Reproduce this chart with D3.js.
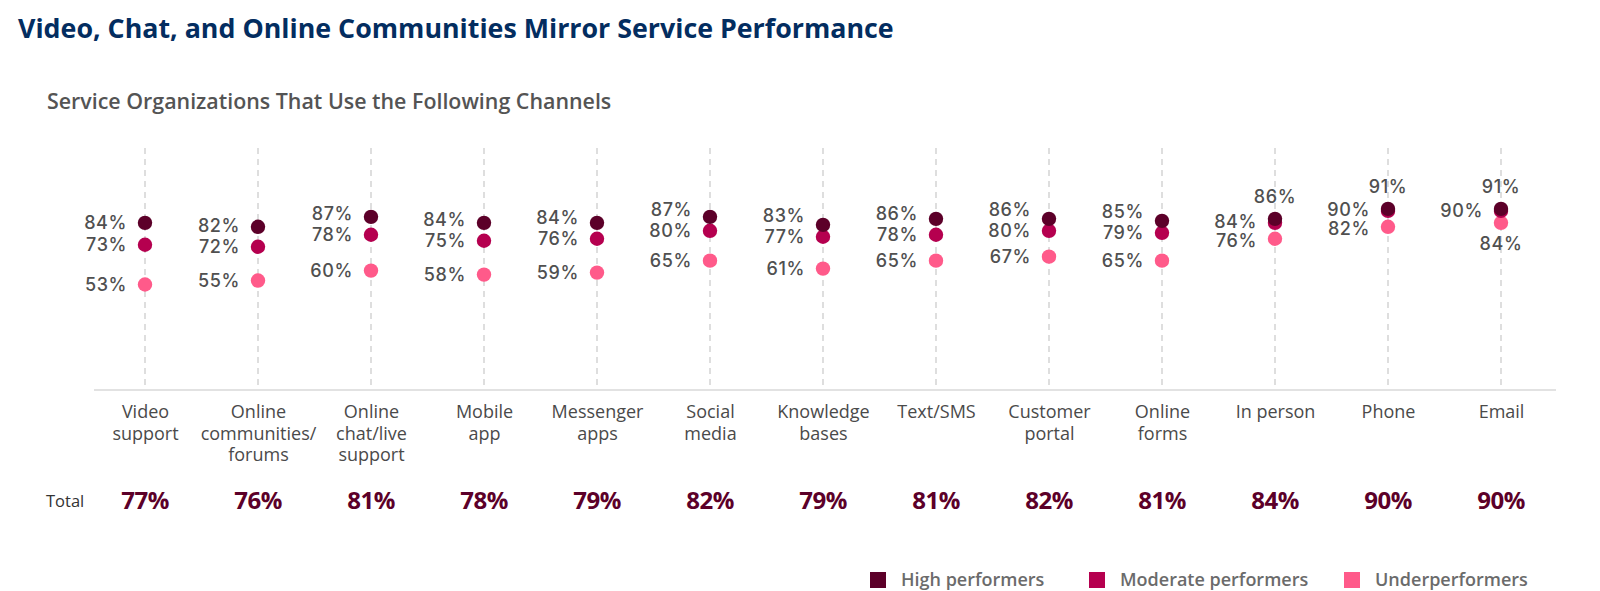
<!DOCTYPE html>
<html>
<head>
<meta charset="utf-8">
<script src="https://cdn.jsdelivr.net/npm/d3@7"></script>
<style>
  body { margin: 0; background: #fff; }
  svg { display: block; }
</style>
</head>
<body>
<svg id="chart"></svg>
<script>
// chart values
var categories = ["Video\nsupport", "Online\ncommunities/\nforums", "Online\nchat/live\nsupport",
  "Mobile\napp", "Messenger\napps", "Social\nmedia", "Knowledge\nbases", "Text/SMS",
  "Customer\nportal", "Online\nforms", "In person", "Phone", "Email"];
var high     = [84, 82, 87, 84, 84, 87, 83, 86, 86, 85, 86, 91, 91];
var moderate = [73, 72, 78, 75, 76, 80, 77, 78, 80, 79, 84, 90, 90];
var under    = [53, 55, 60, 58, 59, 65, 61, 65, 67, 65, 76, 82, 84];
var totals   = [77, 76, 81, 78, 79, 82, 79, 81, 82, 81, 84, 90, 90];
var seriesNames = ["High performers", "Moderate performers", "Underperformers"];

var colors = ["#5c0029", "#b5004f", "#ff5a8a"];
var W = 1600, H = 591;

var svg = d3.select("#chart").attr("width", W).attr("height", H);

// scales
var x = d3.scalePoint().domain(categories).range([145, 1501]);
var y = d3.scaleLinear().domain([0, 100]).range([390, 191]);

// titles
svg.append("text")
  .attr("x", 18).attr("y", 38)
  .style("font-family", "Open Sans").style("font-weight", 700)
  .style("font-size", "26.8px").attr("fill", "#032d60")
  .text("Video, Chat, and Online Communities Mirror Service Performance");

svg.append("text")
  .attr("x", 47).attr("y", 109)
  .style("font-family", "Open Sans").style("font-weight", 600)
  .style("font-size", "21.4px").attr("fill", "#545454")
  .text("Service Organizations That Use the Following Channels");

var g = svg.append("g");

// dashed vertical guides
g.selectAll(".guide")
  .data(categories)
  .enter().append("line")
    .attr("class", "guide")
    .attr("x1", function(d) { return x(d); })
    .attr("x2", function(d) { return x(d); })
    .attr("y1", 148).attr("y2", y(0))
    .attr("stroke", "#c9c9c9").attr("stroke-width", 1.2)
    .attr("stroke-dasharray", "6,5");

// baseline
g.append("line")
  .attr("x1", 94).attr("x2", 1556)
  .attr("y1", y(0)).attr("y2", y(0))
  .attr("stroke", "#d8d8d8").attr("stroke-width", 1.5);

// category labels via bottom axis
var xAxis = g.append("g")
  .attr("transform", "translate(0," + y(0) + ")")
  .call(d3.axisBottom(x).tickSize(0).tickFormat(""));
xAxis.select(".domain").remove();
xAxis.selectAll(".tick").append("text")
  .attr("text-anchor", "middle")
  .style("font-family", "Open Sans").style("font-size", "18px")
  .attr("fill", "#4a4a4a")
  .each(function(d) {
    var t = d3.select(this);
    d.split("\n").forEach(function(line, i) {
      t.append("tspan").attr("x", 0).attr("y", 28 + i * 21.5).text(line);
    });
  });

// totals row
svg.append("text")
  .attr("x", 46).attr("y", 507)
  .style("font-family", "Open Sans").style("font-size", "16.5px")
  .attr("fill", "#333").text("Total");

g.selectAll(".total")
  .data(totals)
  .enter().append("text")
    .attr("class", "total")
    .attr("x", function(d, i) { return x(categories[i]); })
    .attr("y", 509)
    .attr("text-anchor", "middle")
    .style("font-family", "Open Sans").style("font-weight", 700)
    .style("font-size", "24px").style("letter-spacing", "-0.5px")
    .attr("fill", "#5c0029")
    .text(function(d) { return d + "%"; });

// build point records and decide where each label goes
var series = [high, moderate, under];
var points = [];
var minGap = 19;
categories.forEach(function(c, i) {
  var hY = y(high[i]), mY = y(moderate[i]), uY = y(under[i]);
  var place = [
    { pos: "left", ly: Math.min(hY, mY - 21) },
    { pos: "left", ly: mY },
    { pos: "left", ly: uY }
  ];
  if (high[i] - moderate[i] <= 2) place[0] = { pos: "above", ly: hY - 22 };
  if (moderate[i] - under[i] < 7) {
    place[2] = { pos: "below", ly: uY + 21 };
  } else if (place[2].ly - place[1].ly < minGap) {
    // spread the two left labels so they do not touch
    var d = (minGap - (place[2].ly - place[1].ly)) / 2;
    place[1].ly -= d;
    place[2].ly += d;
  }
  series.forEach(function(s, k) {
    points.push({ cat: c, k: k, v: s[i], pos: place[k].pos, ly: place[k].ly });
  });
});

// dots: underperformers first so high performers sit on top
var order = points.slice().sort(function(a, b) { return b.k - a.k; });
g.selectAll(".dot")
  .data(order)
  .enter().append("circle")
    .attr("class", "dot")
    .attr("cx", function(d) { return x(d.cat); })
    .attr("cy", function(d) { return y(d.v); })
    .attr("r", 7.2)
    .attr("fill", function(d) { return colors[d.k]; });

g.selectAll(".val")
  .data(points)
  .enter().append("text")
    .attr("class", "val")
    .attr("x", function(d) { return d.pos === "left" ? x(d.cat) - 18 : x(d.cat); })
    .attr("y", function(d) { return d.ly; })
    .attr("dy", "0.36em")
    .attr("text-anchor", function(d) { return d.pos === "left" ? "end" : "middle"; })
    .style("font-family", "Inter").style("font-weight", 500)
    .style("font-size", "18px").style("letter-spacing", "0.6px")
    .attr("fill", "#505050")
    .text(function(d) { return d.v + "%"; });

// legend
var legendX = [870, 1089, 1344];
var legend = svg.selectAll(".legend")
  .data(seriesNames)
  .enter().append("g")
    .attr("class", "legend")
    .attr("transform", function(d, i) { return "translate(" + legendX[i] + ",572)"; });
legend.append("rect")
  .attr("width", 16).attr("height", 16)
  .attr("fill", function(d, i) { return colors[i]; });
legend.append("text")
  .attr("x", 31).attr("y", 8).attr("dy", "0.36em")
  .style("font-family", "Open Sans").style("font-weight", 600)
  .style("font-size", "18px").attr("fill", "#6b6b6b")
  .text(function(d) { return d; });
</script>
</body>
</html>
